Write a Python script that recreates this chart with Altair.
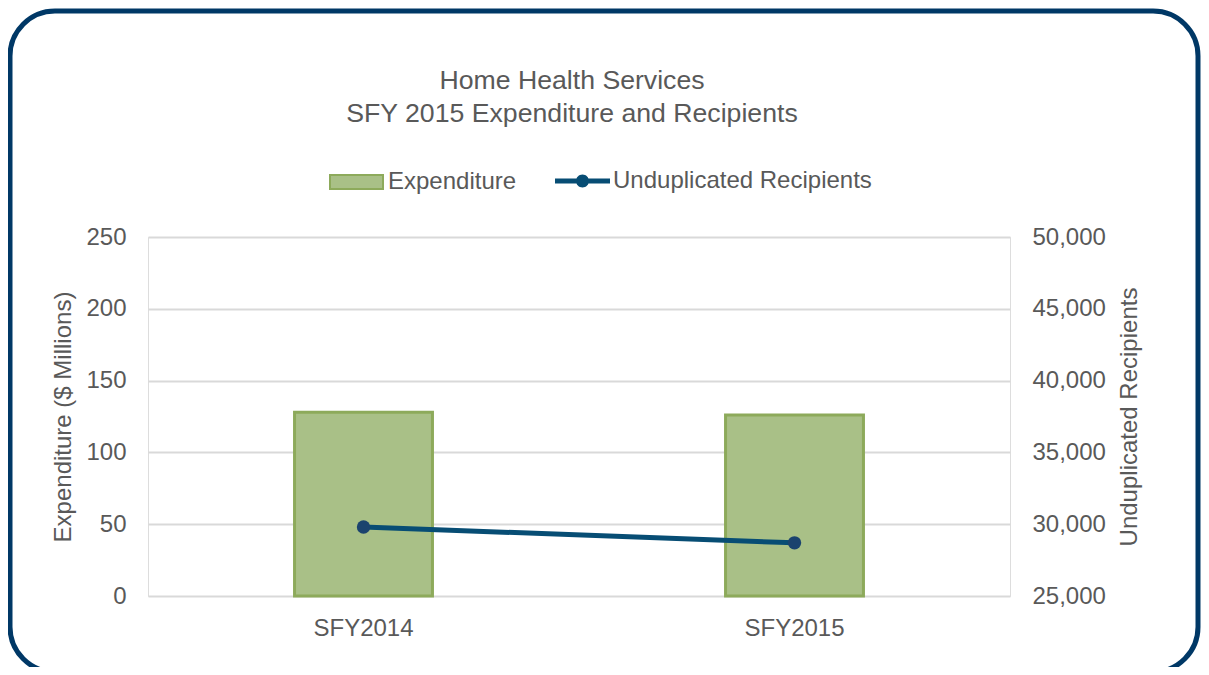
import altair as alt
import pandas as pd

years = ["SFY2014", "SFY2015"]
expenditure = [128, 126]          # $ Millions
recipients = [29800, 28700]       # unduplicated recipients
left_ticks = [0, 50, 100, 150, 200, 250]
right_ticks = [25000, 30000, 35000, 40000, 45000, 50000]

df = pd.DataFrame({
    "year": years,
    "expenditure": expenditure,
    "recipients": recipients,
    "s1": ["Expenditure"] * len(years),
    "s2": ["Unduplicated Recipients"] * len(years),
})

FONT = "Liberation Sans"
GRAY = "#595959"
GREEN = "#A9C087"
GREEN_DARK = "#8DAA5B"
LINE = "#074D74"
POINT = "#1B436E"
BORDER = "#003866"

xscale = alt.Scale(type="band", paddingInner=0.68, paddingOuter=0.34)
xaxis = alt.Axis(title=None, labelAngle=0, domain=False, ticks=False,
                 labelFontSize=24, labelColor=GRAY, labelFont=FONT, labelPadding=20)

base = alt.Chart(df)

bars = base.mark_bar(stroke=GREEN_DARK, strokeWidth=3).encode(
    x=alt.X("year:N", scale=xscale, axis=xaxis),
    y=alt.Y("expenditure:Q",
            scale=alt.Scale(domain=[0, 250], nice=False),
            axis=alt.Axis(values=left_ticks, title="Expenditure ($ Millions)",
                          titleFontSize=24, titleFontWeight="normal", titleColor=GRAY,
                          titleFont=FONT, titlePadding=10,
                          labelFontSize=24, labelColor=GRAY, labelFont=FONT,
                          labelPadding=22, domain=False, ticks=False,
                          grid=True, gridColor="#D9D9D9", gridWidth=2)),
    fill=alt.Fill("s1:N",
                  scale=alt.Scale(domain=["Expenditure"], range=[GREEN]),
                  legend=alt.Legend(title=None, orient="none", legendX=181, legendY=-82.5,
                                    symbolType="M-1,-0.264H1V0.264H-1Z", symbolSize=2809,
                                    symbolStrokeColor=GREEN_DARK, symbolStrokeWidth=2,
                                    labelFontSize=24, labelColor=GRAY, labelFont=FONT,
                                    labelOffset=4, labelLimit=400, padding=0)),
)

ry = alt.Y("recipients:Q",
           scale=alt.Scale(domain=[25000, 50000], nice=False, zero=False),
           axis=alt.Axis(orient="right", values=right_ticks, format=",.0f",
                         title="Unduplicated Recipients", titleAngle=270,
                         titleFontSize=24, titleFontWeight="normal", titleColor=GRAY,
                         titleFont=FONT, titlePadding=36,
                         labelFontSize=24, labelColor=GRAY, labelFont=FONT,
                         labelPadding=22, domain=False, ticks=False, grid=False))

line = base.mark_line(strokeWidth=5).encode(
    x=alt.X("year:N", scale=xscale, axis=xaxis, bandPosition=0.5),
    y=ry,
    stroke=alt.Stroke("s2:N",
                      scale=alt.Scale(domain=["Unduplicated Recipients"], range=[LINE]),
                      legend=alt.Legend(title=None, orient="none", legendX=407, legendY=-83.5,
                                        symbolType="M-1,-0.091H1V0.091H-1Z M0.236,0A0.236,0.236 0 1,1 -0.236,0A0.236,0.236 0 1,1 0.236,0Z",
                                        symbolSize=3025, symbolFillColor=LINE,
                                        symbolStrokeWidth=0,
                                        labelFontSize=24, labelColor=GRAY, labelFont=FONT,
                                        labelOffset=3, labelLimit=400, padding=0)),
)

points = base.mark_circle(size=180, color=POINT, opacity=1).encode(
    x=alt.X("year:N", scale=xscale, axis=xaxis, bandPosition=0.5),
    y=ry,
)

border = alt.Chart(alt.Data(values=[{"a": 1}])).mark_rect(
    fill="transparent", stroke=BORDER, strokeWidth=5, cornerRadius=45, clip=False
).encode(
    x=alt.value(-138), x2=alt.value(1050), y=alt.value(-226), y2=alt.value(435)
)

chart = alt.layer(bars, alt.layer(line, points), border).resolve_scale(
    y="independent", fill="independent", stroke="independent"
).properties(
    width=862, height=359,
    autosize=alt.AutoSizeParams(type="none"),
    padding={"left": 140, "top": 229, "right": 191, "bottom": 71},
    title=alt.TitleParams(
        text=["Home Health Services", "SFY 2015 Expenditure and Recipients"],
        fontSize=26.67, lineHeight=33, color=GRAY, font=FONT, fontWeight="normal",
        anchor="middle", dx=-7, offset=-119),
).configure_view(strokeWidth=0).configure(background="white")

chart.save("out.html", embed_options={"renderer": "svg", "actions": False})
